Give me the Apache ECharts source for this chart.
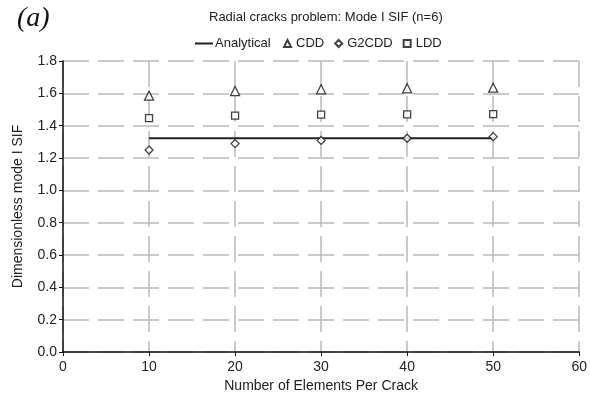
<!DOCTYPE html>
<html>
<head>
<meta charset="utf-8">
<script src="https://cdn.jsdelivr.net/npm/echarts@6/dist/echarts.min.js"></script>
<style>html,body{margin:0;padding:0;background:#fff;}#c{width:590px;height:401px;}</style>
</head>
<body>
<div id="c"></div>
<script>
var elements = [10, 20, 30, 40, 50];
var analytical = [1.322, 1.322, 1.322, 1.322, 1.322];
var cdd = [1.586, 1.614, 1.625, 1.631, 1.635];
var g2cdd = [1.249, 1.289, 1.309, 1.322, 1.332];
var ldd = [1.447, 1.462, 1.468, 1.470, 1.472];
var xTicks = [0, 10, 20, 30, 40, 50, 60];
var yTicks = [0.0, 0.2, 0.4, 0.6, 0.8, 1.0, 1.2, 1.4, 1.6, 1.8];

function pairs(xs, ys){ return xs.map(function(x,i){ return [x, ys[i]]; }); }

var font = 'Liberation Sans, Arial, sans-serif';
var gridLine = { show: true, lineStyle: { color: '#b9b9b9', width: 1.5, type: [26, 9] } };
var diamond = 'path://M0,-1L1,0L0,1L-1,0Z';

var chart = echarts.init(document.getElementById('c'), null, {renderer: 'canvas'});
chart.setOption({
  animation: false,
  backgroundColor: '#fff',
  title: [{
    text: 'Radial cracks problem: Mode I SIF (n=6)',
    left: 209, top: 11, padding: 0,
    textStyle: { fontFamily: font, fontSize: 13, fontWeight: 'normal', color: '#222' }
  }, {
    text: '(a)',
    left: 17, top: 5, padding: 0,
    textStyle: { fontFamily: 'Liberation Serif, Times New Roman, serif', fontSize: 28, fontStyle: 'italic', fontWeight: 'normal', color: '#111' }
  }],
  legend: [{
    data: ['Analytical'],
    left: 195, top: 37, padding: 0,
    itemWidth: 18, itemHeight: 2, icon: 'rect',
    textStyle: { fontFamily: font, fontSize: 13, color: '#222', padding: [0,0,0,-3] }
  }, {
    data: [{name:'CDD', icon:'triangle'}, {name:'G2CDD', icon: diamond}, {name:'LDD', icon:'rect'}],
    left: 283, top: 37, padding: 0,
    itemWidth: 7, itemHeight: 7, itemGap: 10,
    textStyle: { fontFamily: font, fontSize: 13, color: '#222' }
  }],
  grid: { left: 63, right: 8, top: 61, bottom: 49, containLabel: false },
  xAxis: {
    type: 'value', min: 0, max: 60, interval: 10,
    name: 'Number of Elements Per Crack', nameLocation: 'middle', nameGap: 27,
    nameTextStyle: { fontFamily: font, fontSize: 14, color: '#222' },
    axisLine: { show: true, lineStyle: { color: '#111', width: 1.5 } },
    axisTick: { show: true, length: 4, lineStyle: { color: '#111' } },
    axisLabel: { fontFamily: font, fontSize: 14, color: '#222', margin: 8,
      formatter: function(v){ return xTicks.indexOf(v) >= 0 ? String(v) : ''; } },
    splitLine: gridLine
  },
  yAxis: {
    type: 'value', min: 0, max: 1.8, interval: 0.2,
    name: 'Dimensionless mode I SIF', nameLocation: 'middle', nameGap: 38,
    nameTextStyle: { fontFamily: font, fontSize: 14, color: '#222' },
    axisLine: { show: true, lineStyle: { color: '#111', width: 1.5 } },
    axisTick: { show: true, length: 4, lineStyle: { color: '#111' } },
    axisLabel: { fontFamily: font, fontSize: 14, color: '#222', margin: 6,
      formatter: function(v){ return v.toFixed(1); } },
    splitLine: gridLine
  },
  series: [{
    name: 'Analytical', type: 'line', data: pairs(elements, analytical),
    symbol: 'none', lineStyle: { color: '#222', width: 2 }, itemStyle: { color: '#222' }, z: 3
  }, {
    name: 'CDD', type: 'scatter', data: pairs(elements, cdd),
    symbol: 'triangle', symbolSize: 9,
    itemStyle: { color: '#fff', borderColor: '#111', borderWidth: 1.3 }, z: 4
  }, {
    name: 'G2CDD', type: 'scatter', data: pairs(elements, g2cdd),
    symbol: diamond, symbolSize: 8,
    itemStyle: { color: '#fff', borderColor: '#111', borderWidth: 1.3 }, z: 4
  }, {
    name: 'LDD', type: 'scatter', data: pairs(elements, ldd),
    symbol: 'rect', symbolSize: 7,
    itemStyle: { color: '#fff', borderColor: '#111', borderWidth: 1.3 }, z: 4
  }]
});
</script>
</body>
</html>
